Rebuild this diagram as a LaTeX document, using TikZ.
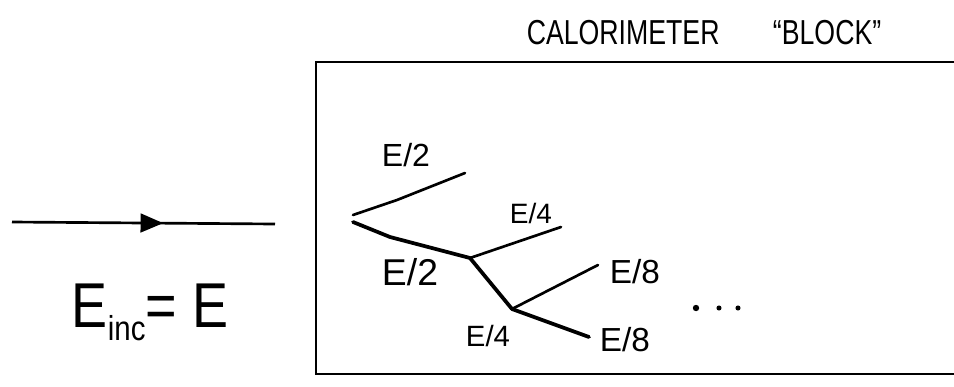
\documentclass[tikz,border=0pt]{standalone}
\usepackage{fontspec}
\setmainfont{Liberation Sans}
\usetikzlibrary{arrows.meta,decorations.markings}

\begin{document}
\begin{tikzpicture}[
    x=0.75pt,y=-0.75pt,
    branch/.style={line width=2pt,line cap=round,line join=round},
    heavy/.style={branch,line width=2.8pt},
    share/.style={inner sep=0pt,font=\fontsize{24}{26}\selectfont},
    beam/.style={line width=2pt,postaction={decorate},decoration={markings,mark=at position 0.575 with {\arrow{Triangle[length=17pt,width=14pt]}}}}
  ]
  \useasboundingbox (0,0) rectangle (954,386);
  % incoming particle
  \coordinate (inL) at (12,222);
  \coordinate (inR) at (275,224);
  \draw[beam] (inL) -- (inR);
  \node[font=\fontsize{44}{48}\selectfont,inner sep=0pt] (einc) at (150,312)
    {\scalebox{0.92}[1.08]{E{\fontsize{24}{26}\selectfont\raisebox{-9pt}{inc}}= E}};
  % the block
  \node[font=\fontsize{26}{28}\selectfont,inner sep=0pt] (title) at (704,33) {\scalebox{0.77}[1]{CALORIMETER\qquad “BLOCK”}};
  \coordinate (boxTR) at (954,62);
  \coordinate (boxTL) at (316,62);
  \coordinate (boxBL) at (316,374);
  \coordinate (boxBR) at (954,374);
  \draw[line width=1.8pt] (boxTR) -- (boxTL) -- (boxBL) -- (boxBR);
  % shower
  \coordinate (v0a) at (353,215);
  \coordinate (v0b) at (353,222);
  \coordinate (k1) at (397,200);
  \coordinate (k2) at (390,237);
  \coordinate (e2a) at (465,173);
  \coordinate (v1) at (470,258);
  \coordinate (e4a) at (561,227);
  \coordinate (v2) at (512,309);
  \coordinate (e8a) at (598,265);
  \coordinate (e8b) at (589,337);
  \draw[branch] (v0a) -- (k1) -- (e2a);
  \draw[heavy] (v0b) -- (k2) -- (v1);
  \draw[branch] (v1) -- (e4a);
  \draw[heavy] (v1) -- (v2);
  \draw[branch] (v2) -- (e8a);
  \draw[heavy] (v2) -- (e8b);
  \node[share] (lE2a) at (406,155) {E/2};
  \node[share,font=\fontsize{28}{30}\selectfont] (lE2b) at (410,272) {E/2};
  \node[share,font=\fontsize{21}{23}\selectfont] (lE4a) at (531,213) {E/4};
  \node[share,font=\fontsize{22}{24}\selectfont] (lE4b) at (488,336) {E/4};
  \node[share,font=\fontsize{25}{27}\selectfont] (lE8a) at (635,272) {E/8};
  \node[share,font=\fontsize{25}{27}\selectfont] (lE8b) at (625,340) {E/8};
  \fill (696,308) circle (2.4pt);
  \foreach \x in {719,738}
    \fill (\x,308) circle (1.9pt);
\end{tikzpicture}
\end{document}
